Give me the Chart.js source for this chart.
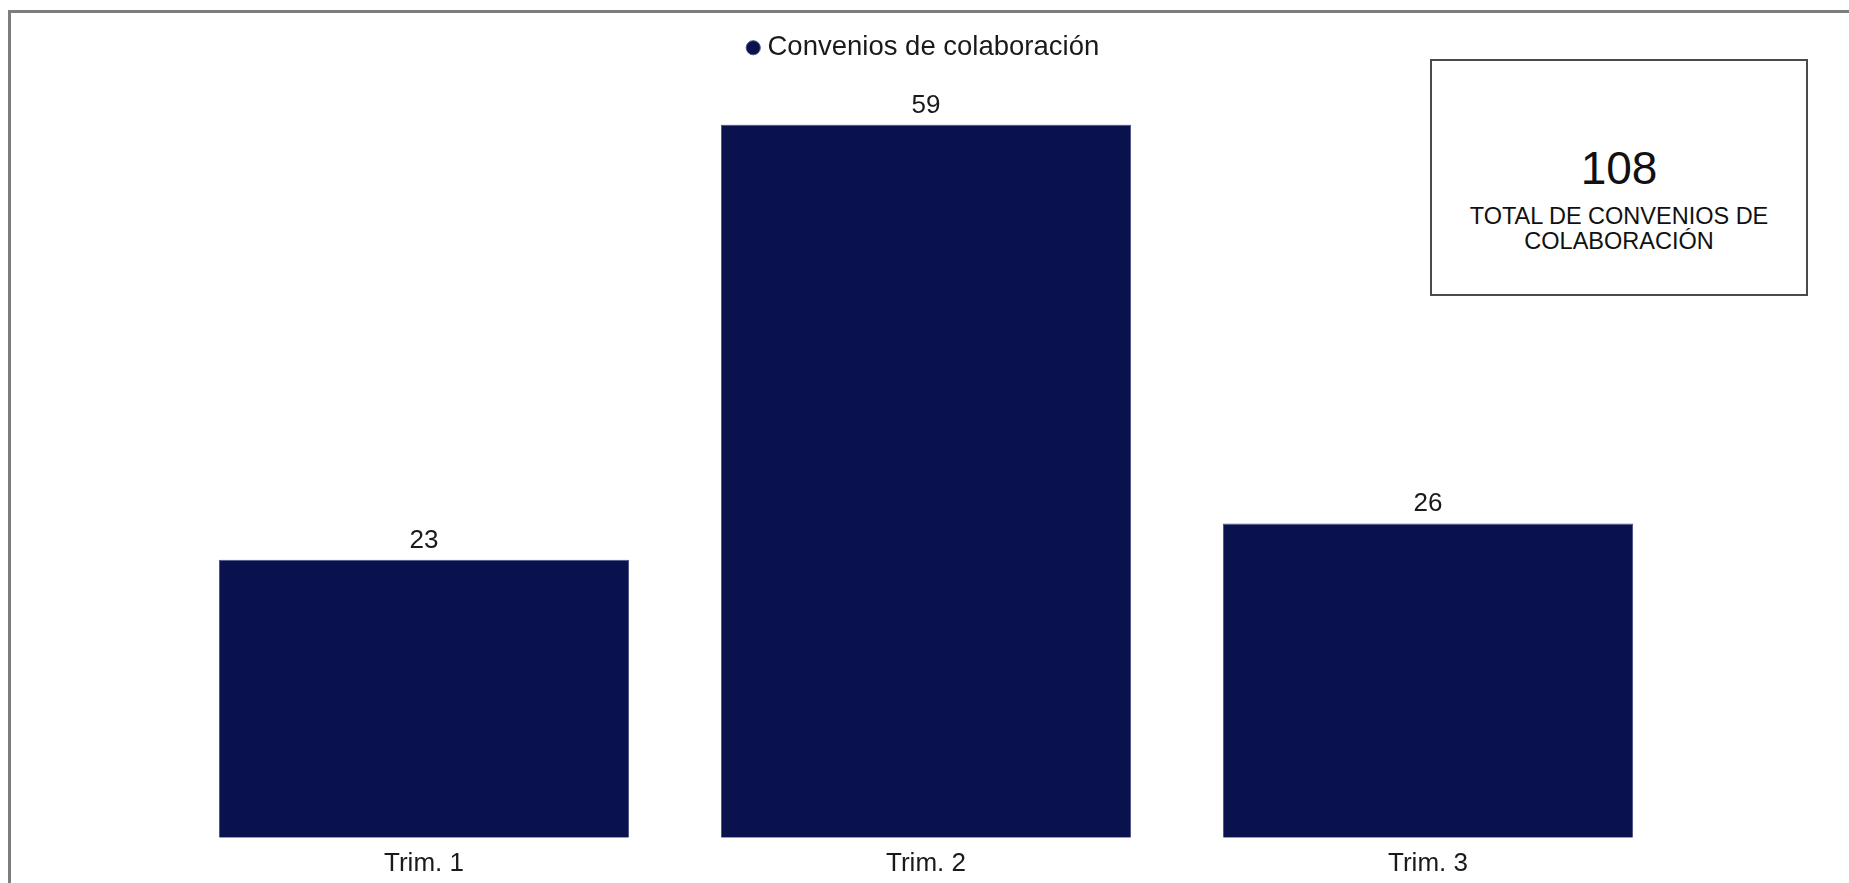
<!DOCTYPE html>
<html lang="es">
<head>
<meta charset="utf-8">
<title>Convenios de colaboración</title>
<script src="https://cdn.jsdelivr.net/npm/chart.js@4.4.1/dist/chart.umd.min.js"></script>
<style>
    html, body { margin: 0; padding: 0; background: #fff; overflow: hidden; }
    body { width: 1849px; height: 883px; position: relative; font-family: Arial, "Liberation Sans", sans-serif; }
    #frame {
        position: absolute; left: 8px; top: 10px; width: 1900px; height: 900px;
        border-top: 3px solid #7d7d7d; border-left: 3px solid #7d7d7d;
    }
    /* el lienzo baja un poco más que la ventana, igual que el marco */
    #chart-wrap { position: absolute; left: 0; top: 0; width: 1849px; height: 889px; }
    #total-box {
        position: absolute; left: 1430px; top: 59px; width: 374px; height: 233px;
        border: 2px solid #4a4a4a; background: #fff; text-align: center; color: #111;
    }
    #total-value { position: absolute; left: 0; right: 0; top: 84px; font-size: 46px; line-height: 46px; }
    #total-label { position: absolute; left: 0; right: 0; top: 143px; font-size: 23.5px; line-height: 25px; }
</style>
</head>
<body>
<div id="chart-wrap"><canvas id="chart-convenios"></canvas></div>
<div id="frame"></div>
<div id="total-box">
    <div id="total-value"></div>
    <div id="total-label">TOTAL DE CONVENIOS DE<br>COLABORACIÓN</div>
</div>
<script>
const labels = ['Trim. 1', 'Trim. 2', 'Trim. 3'];
const convenios = [23, 59, 26];
const seriesName = 'Convenios de colaboración';

const NAVY = '#0a124e';
const TEXT = '#1a1a1a';

Chart.defaults.font.family = 'Arial, "Liberation Sans", sans-serif';
Chart.defaults.color = TEXT;

// total en la caja de la derecha
document.getElementById('total-value').textContent = convenios.reduce((s, v) => s + v, 0);

// etiquetas de valor encima de cada barra
const valueLabels = {
    id: 'valueLabels',
    afterDatasetsDraw(chart) {
        const { ctx } = chart;
        ctx.save();
        ctx.font = '26px Arial, "Liberation Sans", sans-serif';
        ctx.fillStyle = TEXT;
        ctx.textAlign = 'center';
        ctx.textBaseline = 'alphabetic';
        chart.getDatasetMeta(0).data.forEach((bar, i) => {
            ctx.fillText(chart.data.datasets[0].data[i], bar.x, bar.y - 12);
        });
        ctx.restore();
    }
};

// deja hueco bajo la leyenda para las etiquetas
const legendSpace = {
    id: 'legendSpace',
    beforeInit(chart) {
        const fit = chart.legend.fit;
        chart.legend.fit = function () {
            fit.bind(chart.legend)();
            this.height += 53;
        };
    }
};

new Chart(document.getElementById('chart-convenios'), {
    type: 'bar',
    data: {
        labels,
        datasets: [{
            label: seriesName,
            data: convenios,
            backgroundColor: NAVY,
            borderColor: '#4b5283',
            borderWidth: 1,
            barPercentage: 0.817,
            categoryPercentage: 1,
        }]
    },
    options: {
        responsive: true,
        maintainAspectRatio: false,
        animation: false,
        layout: { padding: { top: 24, left: 173, right: 170, bottom: 0 } },
        plugins: {
            legend: {
                display: true,
                position: 'top',
                labels: {
                    usePointStyle: true,
                    pointStyle: 'circle',
                    boxWidth: 1,
                    boxHeight: 10,
                    padding: 10,
                    color: TEXT,
                    font: { size: 27.5 }
                }
            },
            tooltip: { enabled: false }
        },
        scales: {
            x: {
                grid: { display: false, drawTicks: false },
                border: { display: false },
                ticks: { color: TEXT, font: { size: 26 }, padding: 10 }
            },
            y: {
                display: false,
                min: 0,
                max: 59
            }
        }
    },
    plugins: [valueLabels, legendSpace]
});
</script>
</body>
</html>
